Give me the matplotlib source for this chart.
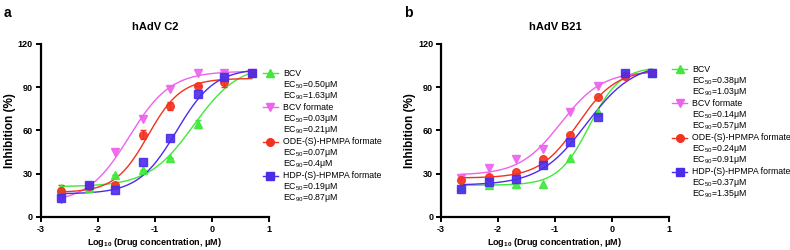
import numpy as np
import matplotlib
matplotlib.use("Agg")
from matplotlib import pyplot as plt
from matplotlib.lines import Line2D

plt.rcParams['font.family'] = ['Liberation Sans', 'DejaVu Sans']
plt.rcParams['mathtext.fontset'] = 'custom'
plt.rcParams['mathtext.rm'] = 'Liberation Sans'
plt.rcParams['mathtext.bf'] = 'Liberation Sans:bold'
plt.rcParams['axes.unicode_minus'] = False

# log10 concentration (uM), 3-fold dilutions from 5 uM
x_conc = [-2.64, -2.16, -1.69, -1.21, -0.73, -0.25, 0.22, 0.70]

names = ["BCV", "BCV formate", "ODE-(S)-HPMPA formate", "HDP-(S)-HPMPA formate"]
colors = ["#3FE83A", "#EE62EE", "#F2321E", "#4A2CEB"]
markers = ["^", "v", "o", "s"]

# panel a: hAdV C2
c2_bcv = [20, 20, 29, 32.5, 41, 64.5, 100, 100]
c2_bcvf = [12.5, 21, 45, 68, 89, 100, 100, 100]
c2_ode = [18, 21.5, 22, 57, 77, 91, 93.5, 100]
c2_hdp = [13, 22, 19, 38, 54.7, 85, 97, 100]
c2_err = [[0, 0, 0, 0, 0, 3, 0, 0],
          [0, 0, 0, 0, 0, 0, 0, 0],
          [4, 0, 0, 3, 3, 0, 3.5, 0],
          [0, 0, 0, 0, 0, 0, 0, 0]]
c2_ec50 = ["0.50", "0.03", "0.07", "0.19"]
c2_ec90 = ["1.63", "0.21", "0.4", "0.87"]
# fitted 4PL curve parameters: bottom, top, logEC50, hill
c2_fit = [(21, 106, -0.32, 1.1),
          (10, 101, -1.45, 1.2),
          (17, 96, -1.12, 1.5),
          (16, 103, -0.62, 1.3)]

# panel b: hAdV B21
b21_bcv = [21, 22, 23, 23, 40.6, 72.5, 99.5, 100]
b21_bcvf = [27, 33.7, 40, 47.3, 72.5, 90.7, 98, 100]
b21_ode = [25.4, 28, 31, 40, 56.5, 83, 97.6, 99.5]
b21_hdp = [19.6, 24, 26, 35.8, 52, 69, 100, 100]
b21_ec50 = ["0.38", "0.14", "0.24", "0.37"]
b21_ec90 = ["1.03", "0.57", "0.91", "1.35"]
b21_fit = [(22, 104, -0.40, 1.6),
           (29, 101, -0.90, 1.2),
           (27, 102, -0.60, 1.3),
           (22, 107, -0.45, 1.05)]


def fourpl(x, b, t, c, h):
    return b + (t - b) / (1 + 10 ** ((c - x) * h))


fig = plt.figure(figsize=(7.9, 2.5), dpi=100)
ax1 = fig.add_axes([0.0515, 0.132, 0.289, 0.693])
ax2 = fig.add_axes([0.558, 0.132, 0.289, 0.693])

panels = [
    (ax1, "hAdV C2", [c2_bcv, c2_bcvf, c2_ode, c2_hdp], c2_err, c2_fit, c2_ec50, c2_ec90, 0.974, 1.061, 0.831),
    (ax2, "hAdV B21", [b21_bcv, b21_bcvf, b21_ode, b21_hdp], None, b21_fit, b21_ec50, b21_ec90, 1.013, 1.100, 0.854),
]

xs = np.linspace(-2.64, 0.70, 200)
px = 1 / 173.3  # one pixel in axes-y units
for ax, title, series, errs, fits, ec50, ec90, lx, tx, ly in panels:
    for i in range(4):
        col = colors[i]
        ax.plot(xs, fourpl(xs, *fits[i]), color=col, lw=1.0, zorder=2)
        if errs is not None and any(errs[i]):
            ax.errorbar(x_conc, series[i], yerr=errs[i], fmt="none", ecolor=col,
                        elinewidth=1.0, capsize=2.5, capthick=1.0, zorder=3)
        ax.plot(x_conc, series[i], linestyle="none", marker=markers[i], ms=5.5,
                color=col, alpha=0.9, zorder=4)

        # legend entry
        y0 = ly - i * 0.198
        ax.add_line(Line2D([lx, lx + 0.065], [y0, y0], transform=ax.transAxes,
                           color=col, lw=1.0, clip_on=False))
        ax.add_line(Line2D([lx + 0.0325], [y0], transform=ax.transAxes, marker=markers[i],
                           ms=5.5, color=col, clip_on=False))
        yb = y0 - 2.5 * px
        ax.text(tx, yb, names[i], transform=ax.transAxes, fontsize=6.3, va="baseline")
        ax.text(tx, yb - 11 * px, "EC$_{50}$=" + ec50[i] + "μM", transform=ax.transAxes,
                fontsize=6.3, va="baseline")
        ax.text(tx, yb - 22 * px, "EC$_{90}$=" + ec90[i] + "μM", transform=ax.transAxes,
                fontsize=6.3, va="baseline")

    ax.set_xlim(-3, 1)
    ax.set_ylim(0, 120)
    ax.set_xticks([-3, -2, -1, 0, 1])
    ax.set_yticks([0, 30, 60, 90, 120])
    for s in ["top", "right"]:
        ax.spines[s].set_visible(False)
    for s in ["left", "bottom"]:
        ax.spines[s].set_linewidth(1.6)
    ax.tick_params(width=1.4, length=3.5, labelsize=6.5, pad=2)
    for lab in ax.get_xticklabels() + ax.get_yticklabels():
        lab.set_fontweight("bold")
    ax.set_title(title, fontsize=8, fontweight="bold", pad=10)
    ax.set_ylabel("Inhibition (%)", fontsize=8.5, fontweight="bold")
    ax.yaxis.set_label_coords(-0.134, 0.5)
    ax.yaxis.label.set_va("center")
    ax.set_xlabel(r"Log$_{\mathbf{10}}$ (Drug concentration, μM)", fontsize=6.5,
                  fontweight="bold")
    ax.xaxis.set_label_coords(0.5, -0.15)
    ax.xaxis.label.set_va("center")

fig.text(0.005, 0.975, "a", fontsize=10, fontweight="bold", va="top")
fig.text(0.512, 0.975, "b", fontsize=10, fontweight="bold", va="top")

fig.savefig("out.png", dpi=100)
